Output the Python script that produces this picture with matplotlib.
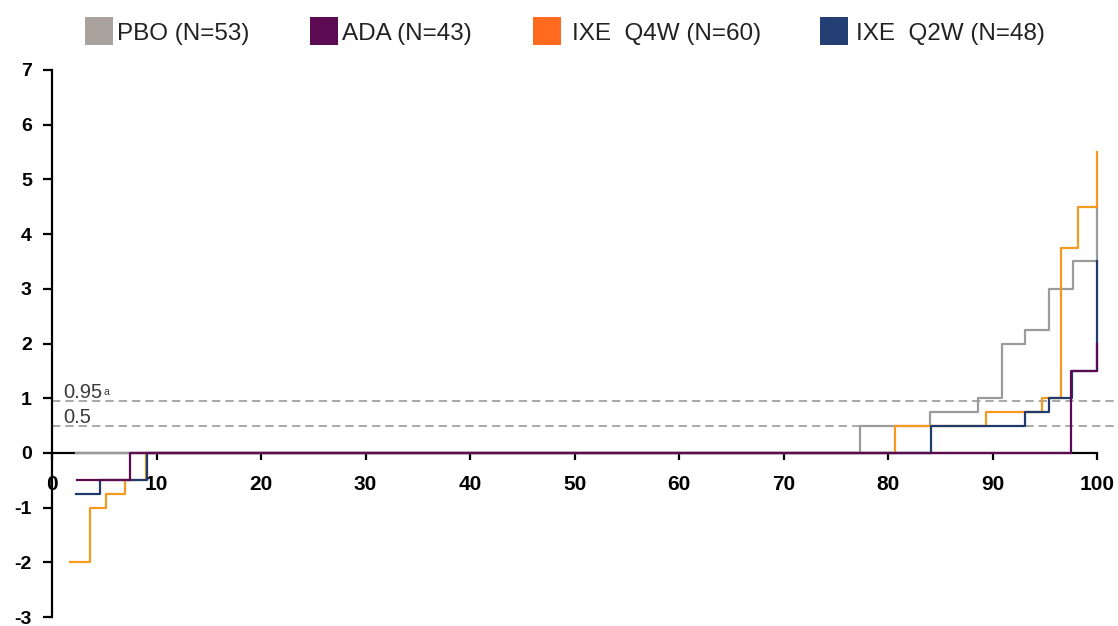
import matplotlib
matplotlib.use("Agg")
import matplotlib.pyplot as plt
from matplotlib.patches import Rectangle

plt.rcParams['font.family'] = ['Liberation Sans', 'DejaVu Sans']

# Cumulative distribution of change: percentile of patients vs. value
groups = ["PBO (N=53)", "ADA (N=43)", "IXE  Q4W (N=60)", "IXE  Q2W (N=48)"]

pbo_pct = [2.3, 77.3, 84.0, 88.6, 90.9, 93.1, 95.4, 97.7, 100]
pbo_val = [0, 0.5, 0.75, 1.0, 2.0, 2.25, 3.0, 3.5, 4.5]

ada_pct = [2.4, 7.5, 97.5, 100]
ada_val = [-0.5, 0, 1.5, 2.0]

q4w_pct = [1.7, 3.6, 5.2, 7.0, 9.0, 80.7, 89.4, 94.7, 96.5, 98.2, 100]
q4w_val = [-2, -1, -0.75, -0.5, 0, 0.5, 0.75, 1.0, 3.75, 4.5, 5.5]

q2w_pct = [2.3, 4.6, 9.1, 84.1, 93.1, 95.4, 97.6, 100]
q2w_val = [-0.75, -0.5, 0, 0.5, 0.75, 1.0, 1.5, 3.5]

ref_levels = [0.95, 0.5]
ref_labels = ["0.95", "0.5"]
ref_notes = ["a", ""]

x_ticks = list(range(0, 101, 10))
y_ticks = list(range(-3, 8))

line_colors = ["#9b9b9b", "#5c0b52", "#f59a1e", "#213a6c"]
patch_colors = ["#a8a19c", "#5c0b52", "#ff6a1f", "#243f74"]

fig = plt.figure(figsize=(11.18, 6.26), dpi=100)
ax = fig.add_axes([52 / 1118, 9 / 626, 1066 / 1118, 547 / 626])

series = [(pbo_pct, pbo_val), (ada_pct, ada_val), (q4w_pct, q4w_val), (q2w_pct, q2w_val)]
zorders = [3, 6, 4, 5]
for (px, py), c, z in zip(series, line_colors, zorders):
    ax.step(px, py, where="post", color=c, lw=1.6, zorder=z)

# reference thresholds
for lvl, lab, note in zip(ref_levels, ref_labels, ref_notes):
    ax.axhline(lvl, color="#9a9a9a", lw=1.2, ls=(0, (5, 3)), zorder=2)
    ax.annotate(lab, (1.05, lvl), xytext=(0, 2), textcoords="offset points",
                fontsize=14.5, color="#3a3a3a", ha="left", va="baseline")
    if note:
        ax.annotate(note, (1.05, lvl), xytext=(29, 4),
                    textcoords="offset points", fontsize=7.5,
                    color="#3a3a3a", ha="left", va="baseline")

ax.set_xlim(0, 102)
ax.set_ylim(-3, 7)

for s in ["top", "right"]:
    ax.spines[s].set_visible(False)
ax.spines["bottom"].set_position(("data", 0))
ax.spines["bottom"].set_bounds(0, 100)
ax.spines["left"].set_bounds(-3, 7)
for s in ["bottom", "left"]:
    ax.spines[s].set_linewidth(1.6)
    ax.spines[s].set_color("black")
    ax.spines[s].set_zorder(2.5)

ax.set_xticks(x_ticks)
ax.set_yticks(y_ticks)
ax.set_yticklabels([str(t) for t in y_ticks], fontsize=14, fontweight="bold")
ax.tick_params(axis="x", direction="out", length=5, width=1.6, labelbottom=False)
ax.tick_params(axis="y", direction="out", length=6.5, width=1.6, pad=8)
ax.patch.set_visible(False)

# x tick labels sit just under the zero line
for t in x_ticks:
    ax.annotate(str(t), (t, 0), xytext=(0, -16), textcoords="offset points",
                fontsize=15, fontweight="bold", ha="center", va="top",
                annotation_clip=False)

# legend across the top
patch_left = [85, 310, 533, 820]
text_gap = [4, 4, 11, 8]
for name, col, xl, g in zip(groups, patch_colors, patch_left, text_gap):
    fig.patches.append(Rectangle((xl / 1118, (626 - 45) / 626), 28 / 1118, 28 / 626,
                                 transform=fig.transFigure, facecolor=col,
                                 edgecolor="none"))
    fig.text((xl + 28 + g) / 1118, (626 - 40) / 626, name, fontsize=17.5,
             color="#222222", ha="left", va="baseline")

fig.savefig("out.png", dpi=100)
